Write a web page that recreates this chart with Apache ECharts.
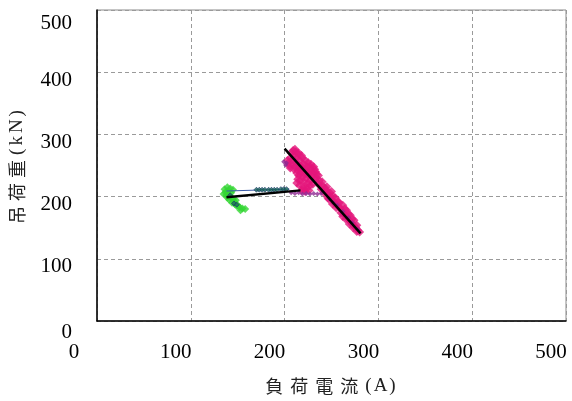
<!DOCTYPE html>
<html>
<head>
<meta charset="utf-8">
<script src="https://cdn.jsdelivr.net/npm/echarts@6/dist/echarts.min.js"></script>
<style>
  html, body { margin: 0; padding: 0; background: #fff; }
  #chart { width: 572px; height: 401px; }
</style>
</head>
<body>
<div id="chart"></div>
<script>
// Axis ranges and tick labels
const xTicks = [0, 100, 200, 300, 400, 500];
const yTicks = [0, 100, 200, 300, 400, 500];

// Load current (A) vs. hoist load (kN)
const magentaPts = [
  [207, 270], [209, 274], [212, 272], [210, 266], [214, 268], [206, 262], [209, 260],
  [213, 262], [216, 258], [219, 262], [222, 258], [225, 255], [228, 252], [231, 248],
  [204, 254], [208, 252], [212, 254], [216, 250], [220, 252], [224, 248], [228, 244],
  [232, 244], [206, 246], [210, 244], [214, 242], [218, 244], [222, 240], [226, 238],
  [230, 238], [234, 236], [215, 234], [219, 232], [223, 230], [217, 226], [221, 224],
  [225, 222], [216, 218], [220, 216], [224, 214], [218, 210], [222, 208],
  [211, 276], [215, 270], [218, 266], [203, 258], [205, 250], [211, 248], [215, 246],
  [219, 248], [223, 244], [227, 248], [233, 240], [236, 234], [213, 238], [217, 238],
  [221, 236], [225, 234], [229, 232], [232, 228], [228, 226], [227, 218], [230, 220],
  [221, 212], [226, 210], [214, 228], [213, 222],
  [234, 230], [237, 226], [236, 220], [240, 218], [239, 212], [243, 214], [242, 206],
  [246, 204], [249, 200], [247, 196], [251, 194], [253, 190], [256, 186], [255, 182],
  [259, 182], [261, 178], [263, 172], [262, 168], [266, 168], [268, 163], [270, 160],
  [272, 156], [274, 153], [276, 150], [278, 146], [280, 143],
  [244, 210], [248, 206], [252, 200], [257, 192], [262, 186], [266, 178], [270, 170],
  [274, 162], [277, 154], [240, 224], [245, 216], [250, 208], [254, 198], [258, 190],
  [264, 180], [268, 172], [272, 164], [246, 198], [251, 188], [260, 174], [265, 164],
  [269, 156], [273, 150], [277, 144]
];
const purplePts = [
  [199, 256], [202, 254], [201, 251], [207, 206], [211, 205], [215, 206], [219, 204],
  [223, 205], [227, 204], [231, 205], [235, 204], [239, 205], [248, 196], [252, 190],
  [256, 186], [262, 176], [268, 166], [272, 158], [278, 147]
];
const greenPts = [
  [136, 212], [139, 215], [142, 213], [145, 211], [137, 207], [140, 209], [143, 206],
  [138, 202], [141, 203], [135, 204], [139, 198], [142, 199], [145, 196], [148, 194],
  [144, 190], [147, 188], [150, 186], [152, 183], [155, 181], [158, 180], [153, 178],
  [149, 185], [146, 192], [141, 195]
];
const tealPts = [
  [142, 202], [146, 189], [149, 187], [170, 211], [173, 211], [176, 211], [179, 211],
  [183, 211], [186, 211], [189, 211], [192, 211], [196, 212], [199, 212], [202, 212]
];
const blueLinePts = [[138, 209], [205, 212]];
const trendA = [[200, 277], [281, 141]];
const trendB = [[138, 199], [217, 210]];

const serif = 'Liberation Serif, Times New Roman, serif';
const cjk = 'Noto Sans CJK JP, Noto Sans CJK SC, sans-serif';

// Axis titles are built from single-glyph rich tokens so each glyph gets its own spacing
function spacedName(cjkChars, latinChars) {
  const a = cjkChars.split('').map(c => '{c|' + c + '}').join('');
  const b = latinChars.split('').map(c => '{e|' + c + '}').join('');
  return a + b;
}

const chart = echarts.init(document.getElementById('chart'), null, { renderer: 'canvas' });

chart.setOption({
  animation: false,
  backgroundColor: '#fff',
  grid: {
    left: 95, top: 10, right: 6, bottom: 80,
    show: true, borderColor: '#8a8a8a', borderWidth: 1, backgroundColor: 'transparent'
  },
  xAxis: {
    type: 'value', min: xTicks[0], max: xTicks[xTicks.length - 1], interval: 100,
    name: spacedName('負荷電流', '(A)'),
    nameLocation: 'middle', nameGap: 56,
    nameTextStyle: {
      rich: {
        c: { fontFamily: cjk, fontSize: 18, color: '#222', padding: [0, 7, 0, 0] },
        e: { fontFamily: serif, fontSize: 19, color: '#222', padding: [0, 2, 0, 0] }
      }
    },
    axisLine: { show: true, onZero: false, lineStyle: { color: '#000', width: 1.5 } },
    axisTick: { show: false },
    splitLine: { show: true, lineStyle: { color: '#9a9a9a', type: [4, 3], width: 1 } },
    axisLabel: {
      margin: 21,
      formatter: v => (v === 0 ? '{z|0}' : '{n|' + v + '}'),
      rich: {
        z: { fontFamily: serif, fontSize: 21, color: '#000', padding: [0, 46, 0, 0] },
        n: { fontFamily: serif, fontSize: 21, color: '#000', padding: [0, 30, 0, 0] }
      }
    }
  },
  yAxis: {
    type: 'value', min: yTicks[0], max: yTicks[yTicks.length - 1], interval: 100,
    name: spacedName('吊荷重', '(kN)'),
    nameLocation: 'middle', nameGap: 70, nameRotate: 90,
    nameTextStyle: {
      rich: {
        c: { fontFamily: cjk, fontSize: 18, color: '#222', padding: [0, 5, 0, 0] },
        e: { fontFamily: serif, fontSize: 19, color: '#222', padding: [0, 3, 0, 0] }
      }
    },
    axisLine: { show: true, onZero: false, lineStyle: { color: '#000', width: 1.5 } },
    axisTick: { show: false },
    splitLine: { show: true, lineStyle: { color: '#9a9a9a', type: [4, 3], width: 1 } },
    axisLabel: {
      margin: 25,
      formatter: v => (v === 500 ? '{t|500}' : v === 0 ? '{z|0}' : '{n|' + v + '}'),
      rich: {
        t: { fontFamily: serif, fontSize: 21, color: '#000', padding: [26, 0, 0, 0] },
        z: { fontFamily: serif, fontSize: 21, color: '#000', padding: [22, 0, 0, 0] },
        n: { fontFamily: serif, fontSize: 21, color: '#000', padding: [16, 0, 0, 0] }
      }
    }
  },
  series: [
    {
      type: 'scatter', data: greenPts, symbol: 'diamond', symbolSize: 8,
      itemStyle: { color: '#33d633' }, z: 2
    },
    {
      type: 'scatter', data: magentaPts, symbol: 'diamond', symbolSize: 9,
      itemStyle: { color: '#e3157a' }, z: 2
    },
    {
      type: 'scatter', data: purplePts, symbol: 'diamond', symbolSize: 5,
      itemStyle: { color: '#8e2b92' }, z: 3
    },
    {
      type: 'line', data: blueLinePts, showSymbol: false, symbol: 'none',
      lineStyle: { color: '#3a5aa8', width: 1 }, z: 3
    },
    {
      type: 'scatter', data: tealPts, symbol: 'diamond', symbolSize: 5,
      itemStyle: { color: '#1f6e5a', borderColor: '#17356b', borderWidth: 0.8 }, z: 4
    },
    {
      type: 'line', data: trendA, symbol: 'none',
      lineStyle: { color: '#000', width: 2.5 }, z: 5
    },
    {
      type: 'line', data: trendB, symbol: 'none',
      lineStyle: { color: '#000', width: 2.5 }, z: 5
    }
  ]
});
</script>
</body>
</html>
